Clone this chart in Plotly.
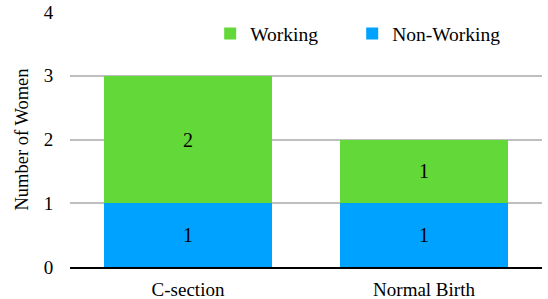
import plotly.graph_objects as go

categories = ["C-section", "Normal Birth"]
non_working = [1, 1]
working = [2, 1]
y_ticks = [0, 1, 2, 3, 4]
series_names = ["Non-Working", "Working"]

font_family = "Times New Roman"
pad = "\u00a0" * 6

fig = go.Figure()
fig.add_trace(go.Bar(
    x=categories, y=non_working, name=series_names[0],
    marker=dict(color="#00A2FF", line=dict(width=0)),
    text=non_working, textposition="inside", insidetextanchor="middle",
    textfont=dict(family=font_family, size=20, color="#000000"),
))
fig.add_trace(go.Bar(
    x=categories, y=working, name=series_names[1] + pad,
    marker=dict(color="#63D939", line=dict(width=0)),
    text=working, textposition="inside", insidetextanchor="middle",
    textfont=dict(family=font_family, size=20, color="#000000"),
))

fig.update_layout(
    width=548, height=299,
    barmode="stack", bargap=0.288,
    margin=dict(l=70, r=6, t=12, b=32, autoexpand=False),
    paper_bgcolor="white", plot_bgcolor="white",
    font=dict(family=font_family, size=19, color="#000000"),
    showlegend=True,
    legend=dict(
        orientation="h", traceorder="reversed",
        x=0.297, xanchor="left", y=0.914, yanchor="middle",
        font=dict(family=font_family, size=19.5, color="#000000"),
        bgcolor="rgba(255,255,255,0)",
        itemwidth=30,
    ),
    uniformtext=dict(mode=False),
)
fig.update_xaxes(
    showgrid=False, showline=True, linecolor="#000000", linewidth=2,
    tickfont=dict(family=font_family, size=19, color="#000000"),
    ticks="", automargin=False, ticklabelstandoff=4,
)
fig.update_yaxes(
    range=[0, 4], tickvals=y_ticks, showgrid=True, gridcolor="#BFBFBF", gridwidth=2,
    zeroline=False, showline=False, automargin=False,
    tickfont=dict(family=font_family, size=19, color="#000000"),
    title=dict(text="Number of Women", font=dict(family=font_family, size=18.5, color="#000000"), standoff=10),
    ticks="outside", ticklen=12, tickcolor="rgba(0,0,0,0)",
)

fig.write_html("out.html", config={"displayModeBar": False},
               post_script="document.body.style.margin='0';")
